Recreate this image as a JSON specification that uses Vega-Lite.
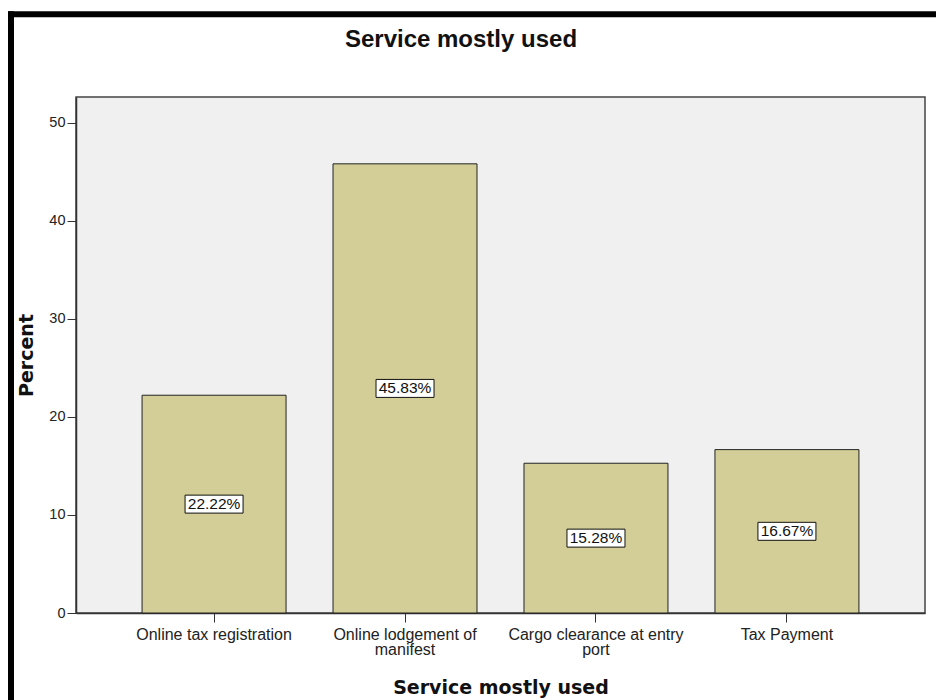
{
  "$schema": "https://vega.github.io/schema/vega-lite/v6.json",
  "autosize": "none",
  "width": 849,
  "height": 516,
  "padding": {"left": 76, "top": 97, "right": 11, "bottom": 87},
  "background": "white",
  "title": {
    "text": "Service mostly used",
    "font": "Liberation Sans",
    "fontSize": 24,
    "fontWeight": "bold",
    "color": "#111",
    "anchor": "middle",
    "frame": "bounds",
    "dx": -12,
    "offset": -44
  },
  "config": {
    "view": {"fill": "#f0f0f0", "stroke": "#444", "strokeWidth": 1.5},
    "axis": {"grid": false}
  },
  "data": {
    "values": [
      {"service": "Online tax registration", "percent": 22.22, "label": "22.22%"},
      {"service": "Online lodgement of manifest", "percent": 45.83, "label": "45.83%"},
      {"service": "Cargo clearance at entry port", "percent": 15.28, "label": "15.28%"},
      {"service": "Tax Payment", "percent": 16.67, "label": "16.67%"}
    ]
  },
  "resolve": {"scale": {"x": "independent"}},
  "layer": [
    {
      "layer": [
        {
          "mark": {"type": "bar", "fill": "#d3ce98", "stroke": "#222", "strokeWidth": 1},
          "encoding": {
            "x": {
              "field": "service",
              "type": "nominal",
              "sort": null,
              "scale": {"paddingInner": 0.246, "paddingOuter": 0.346},
              "axis": {
                "title": "Service mostly used",
                "titleFont": "DejaVu Sans",
                "titleFontSize": 19,
                "titleFontWeight": "bold",
                "titleColor": "#111",
                "titlePadding": 21,
                "labelAngle": 0,
                "labelFont": "Liberation Sans",
                "labelFontSize": 16,
                "labelColor": "#222",
                "labelPadding": 4,
                "labelLineHeight": 15,
                "labelExpr": "datum.label == 'Online lodgement of manifest' ? ['Online lodgement of', 'manifest'] : datum.label == 'Cargo clearance at entry port' ? ['Cargo clearance at entry', 'port'] : datum.label",
                "tickSize": 9,
                "tickColor": "#333",
                "domainColor": "#333",
                "domainWidth": 1.5
              }
            },
            "y": {
              "field": "percent",
              "type": "quantitative",
              "scale": {"domain": [0, 52.65], "nice": false},
              "axis": {
                "title": "Percent",
                "titleFont": "DejaVu Sans",
                "titleFontSize": 19,
                "titleFontWeight": "bold",
                "titleColor": "#111",
                "titlePadding": 12,
                "values": [0, 10, 20, 30, 40, 50],
                "labelFont": "Liberation Sans",
                "labelFontSize": 14.5,
                "labelColor": "#222",
                "labelPadding": 2,
                "tickSize": 9,
                "tickColor": "#333",
                "domainColor": "#333",
                "domainWidth": 1.5
              }
            }
          }
        },
        {
          "mark": {"type": "point", "shape": "M-1,-0.31H1V0.31H-1Z", "size": 3364, "filled": true, "fill": "white", "stroke": "#111", "strokeWidth": 1, "opacity": 1},
          "encoding": {
            "x": {"field": "service", "type": "nominal", "sort": null},
            "y": {"field": "percent", "type": "quantitative", "stack": "zero", "bandPosition": 0.5}
          }
        },
        {
          "mark": {"type": "text", "font": "Liberation Sans", "fontSize": 15.5, "color": "#111", "baseline": "middle", "align": "center"},
          "encoding": {
            "x": {"field": "service", "type": "nominal", "sort": null},
            "y": {"field": "percent", "type": "quantitative", "stack": "zero", "bandPosition": 0.5},
            "text": {"field": "label"}
          }
        }
      ]
    },
    {
      "data": {"values": [{"x1": -65, "x2": -65, "y1": 61.4, "y2": -10}, {"x1": -68, "x2": 862, "y1": 61.1, "y2": 61.1}]},
      "mark": {"type": "rule", "color": "black", "strokeWidth": 6, "strokeCap": "butt", "clip": false},
      "encoding": {
        "x": {"field": "x1", "type": "quantitative", "scale": {"domain": [0, 849], "nice": false, "zero": false}, "axis": null},
        "x2": {"field": "x2"},
        "y": {"field": "y1", "type": "quantitative"},
        "y2": {"field": "y2"}
      }
    }
  ]
}
